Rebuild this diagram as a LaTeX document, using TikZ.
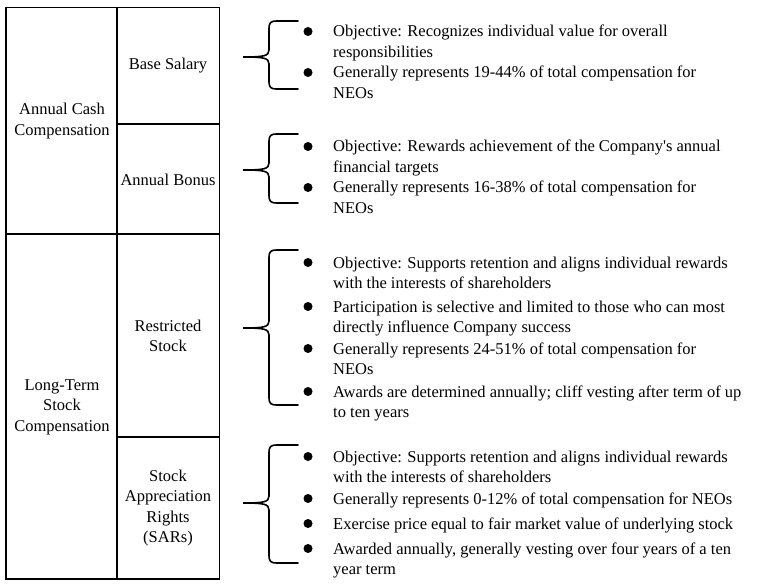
\documentclass[tikz,border=0pt]{standalone}
\usepackage{fontspec}
\setmainfont{Liberation Serif}

\tikzset{
  grid line/.style={line width=1.9pt},
  brace line/.style={line width=1.6pt, line cap=round},
  cell/.style={align=center, inner sep=0pt},
  point/.style={anchor=base west, align=left, inner sep=0pt},
}

% curly bracket: top, tip, bottom
\newcommand\curlybrace[3]{%
  \draw[brace line] (298,#1) -- (276,#1) .. controls (271,#1) and (269,#1+2) .. (269,#1+7)
    -- (269,#2-7) .. controls (269,#2-1) and (264,#2) .. (243,#2)
    .. controls (264,#2) and (269,#2+1) .. (269,#2+7)
    -- (269,#3-7) .. controls (269,#3-2) and (271,#3) .. (276,#3) -- (298,#3);}

\begin{document}
\begin{tikzpicture}[x=1pt, y=-1pt, font=\fontsize{16.5}{20.5}\selectfont]
\useasboundingbox (0,0) rectangle (760,585);

% table
\draw[grid line] (6,7.5) rectangle (219.5,579);
\draw[grid line] (117,7.5) -- (117,579);
\draw[grid line] (117,124) -- (219.5,124);
\draw[grid line] (6,234) -- (219.5,234);
\draw[grid line] (117,437) -- (219.5,437);

\node[cell] (cash) at (62,121) {Annual Cash\\Compensation};
\node[cell] (longterm) at (62,407) {Long-Term\\Stock\\Compensation};
\node[cell] (salary) at (168,66) {Base Salary};
\node[cell] (bonus) at (168,180) {Annual Bonus};
\node[cell] (restricted) at (168,336) {Restricted\\Stock};
\node[cell] (sars) at (168,508) {Stock\\Appreciation\\Rights\\(SARs)};

% brackets
\curlybrace{21}{57}{89}
\curlybrace{134}{170}{203}
\curlybrace{250}{328}{405}
\curlybrace{445}{503}{563}

% points (placed at the baseline of their last line)
\node[point] (sal1) at (333,57.5) {Objective: Recognizes individual value for overall\\responsibilities};
\node[point] (sal2) at (333,98.5) {Generally represents 19-44\% of total compensation for\\NEOs};
\node[point] (bon1) at (333,172.5) {Objective: Rewards achievement of the Company\textquotesingle s annual\\financial targets};
\node[point] (bon2) at (333,213.5) {Generally represents 16-38\% of total compensation for\\NEOs};
\node[point] (rst1) at (333,288.5) {Objective: Supports retention and aligns individual rewards\\with the interests of shareholders};
\node[point] (rst2) at (333,332.5) {Participation is selective and limited to those who can most\\directly influence Company success};
\node[point] (rst3) at (333,374.5) {Generally represents 24-51\% of total compensation for\\NEOs};
\node[point] (rst4) at (333,417.5) {Awards are determined annually; cliff vesting after term of up\\to ten years};
\node[point] (sar1) at (333,482.5) {Objective: Supports retention and aligns individual rewards\\with the interests of shareholders};
\node[point] (sar2) at (333,504) {Generally represents 0-12\% of total compensation for NEOs};
\node[point] (sar3) at (333,529) {Exercise price equal to fair market value of underlying stock};
\node[point] (sar4) at (333,574.5) {Awarded annually, generally vesting over four years of a ten\\year term};

% bullets
\foreach \y in {37,78,152,193,268,312,354,397,462,504,529,554}
  \fill (308,\y-5.5) circle[radius=4.5pt];
\end{tikzpicture}
\end{document}
